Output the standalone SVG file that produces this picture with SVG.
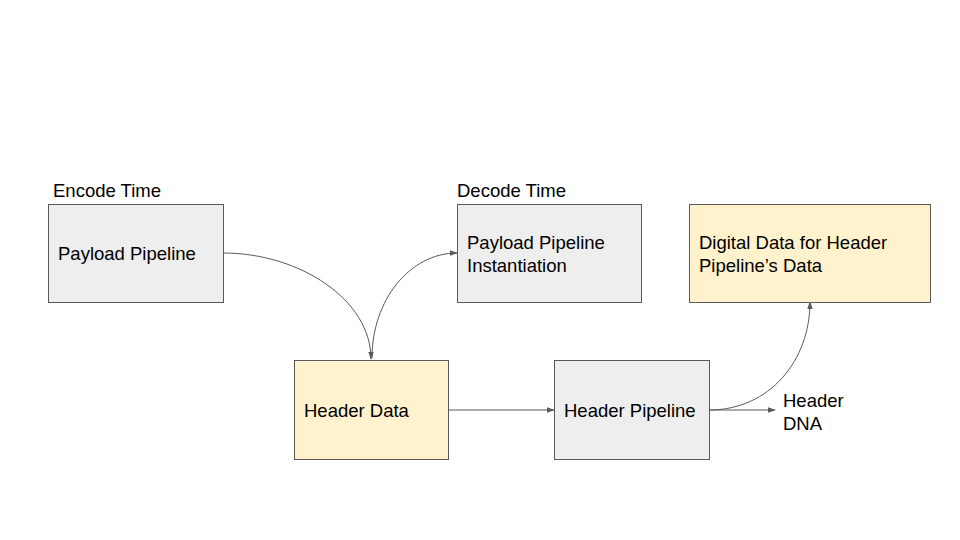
<svg xmlns="http://www.w3.org/2000/svg" width="960" height="540" viewBox="0 0 960 540">
<style>
.box{stroke:#595959;stroke-width:1}
.grey{fill:#eeeeee}
.yellow{fill:#fff2cc}
text{font-family:"Liberation Sans",Arial,sans-serif;font-size:18.5px;fill:#000}
.conn{fill:none;stroke:#595959;stroke-width:1}
</style>
<defs>
<marker id="arr" viewBox="0 0 10 10" refX="9" refY="5" markerWidth="8" markerHeight="8" markerUnits="userSpaceOnUse" orient="auto">
<path d="M0,1.5 L10,5 L0,8.5 z" fill="#595959"/>
</marker>
</defs>
<rect width="960" height="540" fill="#ffffff"/>
<g id="connectors">
<path class="conn" d="M223,253 C300,253 371,300 371,359" marker-end="url(#arr)"/>
<path class="conn" d="M372,358 C372,300 410,253 457,253" marker-end="url(#arr)"/>
<path class="conn" d="M448,410 L554,410" marker-end="url(#arr)"/>
<path class="conn" d="M709,410 C770,410 810,360 810,302" marker-end="url(#arr)"/>
<path class="conn" d="M709,410 L775,410" marker-end="url(#arr)"/>
</g>
<g id="label-encode"><text x="53" y="197">Encode Time</text></g>
<g id="label-decode"><text x="457" y="197">Decode Time</text></g>
<g id="payload-pipeline">
<rect class="box grey" x="48.500" y="204.500" width="175" height="98"/>
<text x="58" y="260">Payload Pipeline</text>
</g>
<g id="payload-instantiation">
<rect class="box grey" x="457.500" y="204.500" width="184" height="98"/>
<text x="467" y="249">Payload Pipeline</text>
<text x="467" y="272">Instantiation</text>
</g>
<g id="digital-data">
<rect class="box yellow" x="689.500" y="204.500" width="241" height="98"/>
<text x="699" y="249">Digital Data for Header</text>
<text x="699" y="272">Pipeline’s Data</text>
</g>
<g id="header-data">
<rect class="box yellow" x="294.500" y="360.500" width="154" height="99"/>
<text x="304" y="417">Header Data</text>
</g>
<g id="header-pipeline">
<rect class="box grey" x="554.500" y="360.500" width="155" height="99"/>
<text x="564" y="417">Header Pipeline</text>
</g>
<g id="header-dna">
<text x="783" y="407">Header</text>
<text x="783" y="430">DNA</text>
</g>
</svg>
